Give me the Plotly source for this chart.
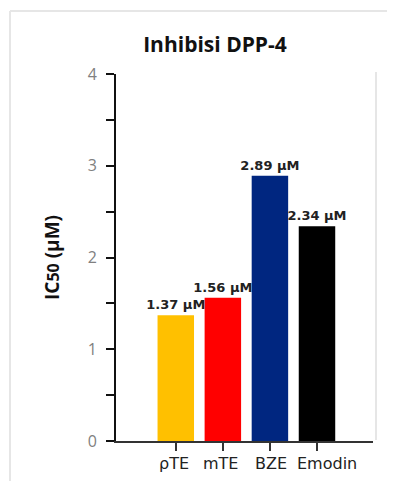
import plotly.graph_objects as go

categories = ["ρTE", "mTE", "BZE", "Emodin"]
ic50_values = [1.37, 1.56, 2.89, 2.34]
value_labels = ["1.37 μM", "1.56 μM", "2.89 μM", "2.34 μM"]
bar_colors = ["#FFC000", "#FF0000", "#002680", "#000000"]
y_tick_values = [0, 1, 2, 3, 4]

# the page body has an 8px margin, so the figure is drawn offset by (8, 8)
OFF = 8
W, H = 395 - OFF, 481 - OFF
L, R, T, B = 108, 22, 66, 40
PW, PH = W - L - R, H - T - B

# small horizontal nudges of the category texts, as in the original figure
label_nudge = [-2, -2, 1, 10]

fig = go.Figure()
fig.add_trace(go.Bar(
    x=list(range(len(categories))),
    y=ic50_values,
    marker=dict(color=bar_colors, line=dict(width=0)),
    width=0.775,
    text=value_labels,
    textposition="outside",
    constraintext="none",
    textfont=dict(family="DejaVu Sans", size=13, color="#222222", weight="bold"),
    cliponaxis=False,
    hoverinfo="skip",
))

for i, (cat, dx) in enumerate(zip(categories, label_nudge)):
    fig.add_annotation(
        x=i, xref="x", y=0, yref="paper", yanchor="middle", xanchor="center",
        yshift=-22, xshift=dx, showarrow=False, text=cat,
        font=dict(family="DejaVu Sans", size=16, color="#222222"),
    )

fig.update_layout(
    width=W, height=H,
    margin=dict(l=L, r=R, t=T, b=B, autoexpand=False),
    paper_bgcolor="white", plot_bgcolor="white",
    showlegend=False,
    title=dict(text="<b>Inhibisi DPP-4</b>", x=(215 - OFF) / W, xanchor="center",
               y=1 - (45 - OFF) / H, yanchor="middle",
               font=dict(family="Open Sans", size=21, color="#111111")),
)

fig.update_xaxes(
    range=[-1.27, 4.19],
    tickvals=list(range(len(categories))),
    showticklabels=False,
    automargin=False,
    showline=True, linecolor="#333333", linewidth=2,
    ticks="outside", ticklen=8, tickwidth=2, tickcolor="#333333",
    showgrid=False, zeroline=False,
)

fig.update_yaxes(
    range=[0, 4],
    tickvals=y_tick_values,
    automargin=False,
    showline=True, linecolor="#111111", linewidth=2,
    ticks="outside", ticklen=8, tickwidth=2, tickcolor="#111111",
    tickfont=dict(family="Open Sans", size=16, color="#808080"),
    ticklabelstandoff=6,
    minor=dict(dtick=0.5, ticks="outside", ticklen=8, tickwidth=2, tickcolor="#111111", showgrid=False),
    showgrid=False, zeroline=False,
    title=dict(text="<b>IC<span style='font-size:16px'>50</span> (μM)</b>",
               font=dict(family="Open Sans", size=19, color="#111111"), standoff=23),
)

# screenshot-like frame lines (given in screen px, converted to plot-domain coords)
def px(sx): return (sx - OFF - L) / PW
def py(sy): return (H - B - (sy - OFF)) / PH
frame = dict(color="#E6E6E6", width=2)
fig.add_shape(type="line", xref="paper", yref="paper", x0=px(10), x1=px(395), y0=py(11), y1=py(11), line=frame)
fig.add_shape(type="line", xref="paper", yref="paper", x0=px(10), x1=px(10), y0=py(11), y1=py(481), line=frame)
fig.add_shape(type="line", xref="paper", yref="paper", x0=px(376), x1=px(376), y0=py(72), y1=py(440), line=frame)

fig.write_html("out.html")
